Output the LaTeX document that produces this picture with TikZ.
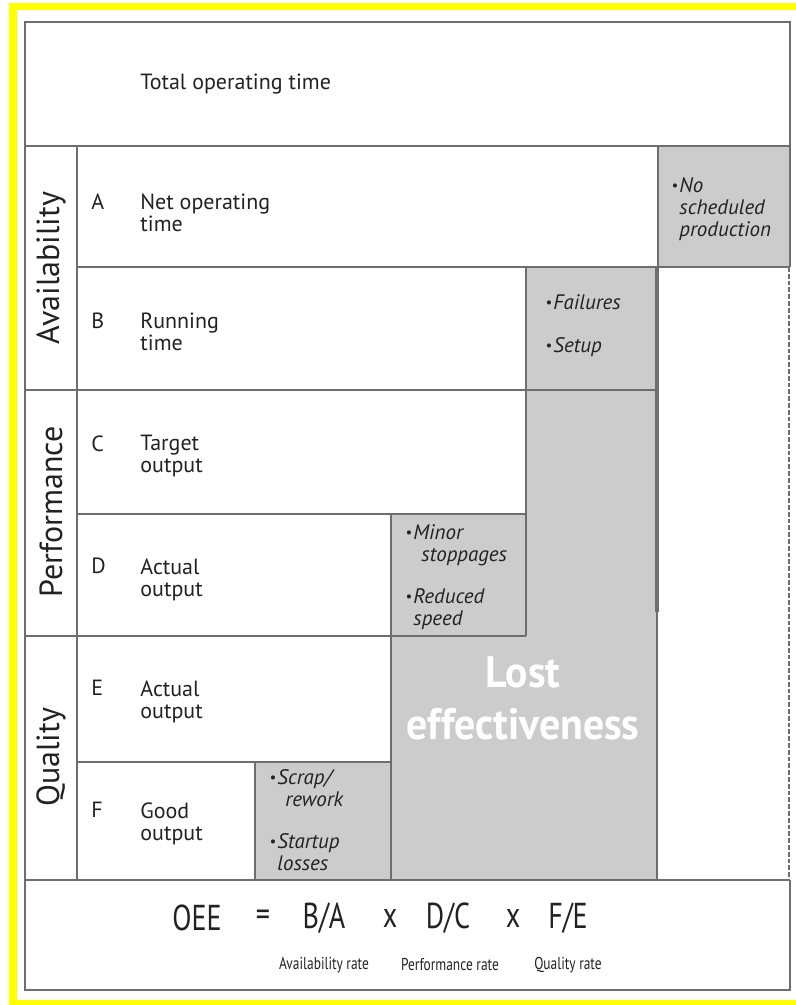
\documentclass[tikz,border=0pt]{standalone}
\usepackage{fontspec}
\setmainfont{PT Sans}
\newfontfamily\narrowfont[FakeStretch=0.78]{PT Sans}
\newfontfamily\heavyfont[FakeStretch=0.95]{PT Sans}
\definecolor{framegray}{HTML}{6E6E6E}
\definecolor{lossgray}{HTML}{CCCCCC}
\definecolor{markyellow}{HTML}{FFFF00}
\definecolor{inkgray}{HTML}{222222}
\newcommand{\lossbul}{\makebox[4pt][l]{\raisebox{0.15ex}{\scalebox{0.7}{\textbullet}}}}
\newcommand{\lossind}{\hspace*{4pt}}
\tikzset{
  frameline/.style={draw=framegray, line width=1.3pt},
  cellline/.style={draw=framegray, line width=1pt},
  rowtext/.style={font=\fontsize{11}{11}\selectfont, text=inkgray, align=left, anchor=north west, inner sep=0pt},
  losstext/.style={font=\fontsize{10.5}{11}\selectfont\itshape, text=inkgray, align=left, anchor=north west, inner sep=0pt},
  aspect/.style={rotate=90, font=\fontsize{16}{16}\selectfont, text=inkgray, inner sep=0pt},
  formula/.style={font=\narrowfont\fontsize{18}{18}\selectfont, text=inkgray, inner sep=0pt},
  ratetext/.style={font=\narrowfont\fontsize{8.6}{8.6}\selectfont, text=inkgray, inner sep=0pt}
}
\begin{document}
\begin{tikzpicture}[x=0.5pt, y=-0.5pt]
	\useasboundingbox (0,0) rectangle (796,1005);
	
	% yellow border
	\fill[markyellow] (9,3) rectangle (796,10);
	\fill[markyellow] (9,3) rectangle (17,1005);
	\fill[markyellow] (9,1000) rectangle (796,1005);
	
	% losses
	\fill[lossgray] (658,146) rectangle (790,267);
	\fill[lossgray] (526,267) rectangle (657,880);
	\fill[lossgray] (391,514) rectangle (526,880);
	\fill[lossgray] (255,762) rectangle (391,880);
	
	% frame
	\draw[frameline] (790,267) -- (790,22) -- (25,22) -- (25,990) -- (790,990) -- (790,880);
	\draw[frameline, dash pattern=on 2.4pt off 1pt] (789,267) -- (789,880);
	\draw[frameline] (25,146) -- (790,146);
	\draw[frameline] (77,146) -- (77,880);
	\draw[frameline] (25,880) -- (790,880);
	\draw[frameline] (25,390) -- (657,390);
	\draw[frameline] (25,636) -- (526,636);
	
	% cells
	\draw[cellline] (77,267) -- (790,267);
	\draw[cellline] (77,514) -- (526,514);
	\draw[cellline] (77,762) -- (391,762);
	\draw[cellline] (658,146) -- (658,267);
	\draw[cellline] (526,267) -- (526,636);
	\draw[cellline] (391,514) -- (391,880);
	\draw[cellline] (255,762) -- (255,880);
	\draw[framegray, line width=2.2pt] (657,267) -- (657,612);
	\draw[cellline] (657,612) -- (657,880);
	
	% top row
	\node[rowtext] (total) at (140,74) {Total operating time};
	
	% aspects
	\node[aspect] (avail) at (51,268) {Availability};
	\node[aspect] (perf) at (51,512) {Performance};
	\node[aspect] (qual) at (51,757) {Quality};
	
	% rows A-F
	\node[rowtext] (la) at (91,193) {A};
	\node[rowtext] (ta) at (140,193) {Net operating\\time};
	\node[rowtext] (lb) at (91,313) {B};
	\node[rowtext] (tb) at (140,313) {Running\\time};
	\node[rowtext] (lc) at (91,435) {C};
	\node[rowtext] (tc) at (140,435) {Target\\output};
	\node[rowtext] (ld) at (91,558) {D};
	\node[rowtext] (td) at (140,558) {Actual\\output};
	\node[rowtext] (le) at (91,680) {E};
	\node[rowtext] (te) at (140,680) {Actual\\output};
	\node[rowtext] (lf) at (91,802) {F};
	\node[rowtext] (tf) at (140,802) {Good\\output};
	
	% loss causes
	\node[losstext] (nosched) at (671,177) {\lossbul No\\\lossind scheduled\\\lossind production};
	\node[losstext] (failures) at (545,294) {\lossbul Failures};
	\node[losstext] (setup) at (545,337) {\lossbul Setup};
	\node[losstext] (minor) at (405,524) {\lossbul Minor\\\lossind\hspace*{4pt}stoppages};
	\node[losstext] (reduced) at (405,588) {\lossbul Reduced\\\lossind speed};
	\node[losstext] (scrap) at (269,769) {\lossbul Scrap/\\\lossind\hspace*{4pt}rework};
	\node[losstext] (startup) at (269,833) {\lossbul Startup\\\lossind losses};
	\node[align=center, text=white, inner sep=0pt, font=\heavyfont\bfseries\fontsize{22}{26}\selectfont] (lost) at (523,698) {Lost\\effectiveness};
	
	% OEE
	\node[formula] (oee) at (197,918) {OEE};
	\node[formula] (eq) at (263,918) {=};
	\node[formula] (ba) at (324,918) {B/A};
	\node[formula] (x1) at (390,918) {x};
	\node[formula] (dc) at (448,918) {D/C};
	\node[formula] (x2) at (513,918) {x};
	\node[formula] (fe) at (568,918) {F/E};
	\node[ratetext] (arate) at (324,965) {Availability rate};
	\node[ratetext] (prate) at (450,965) {Performance rate};
	\node[ratetext] (qrate) at (568,965) {Quality rate};
	
\end{tikzpicture}
\end{document}
